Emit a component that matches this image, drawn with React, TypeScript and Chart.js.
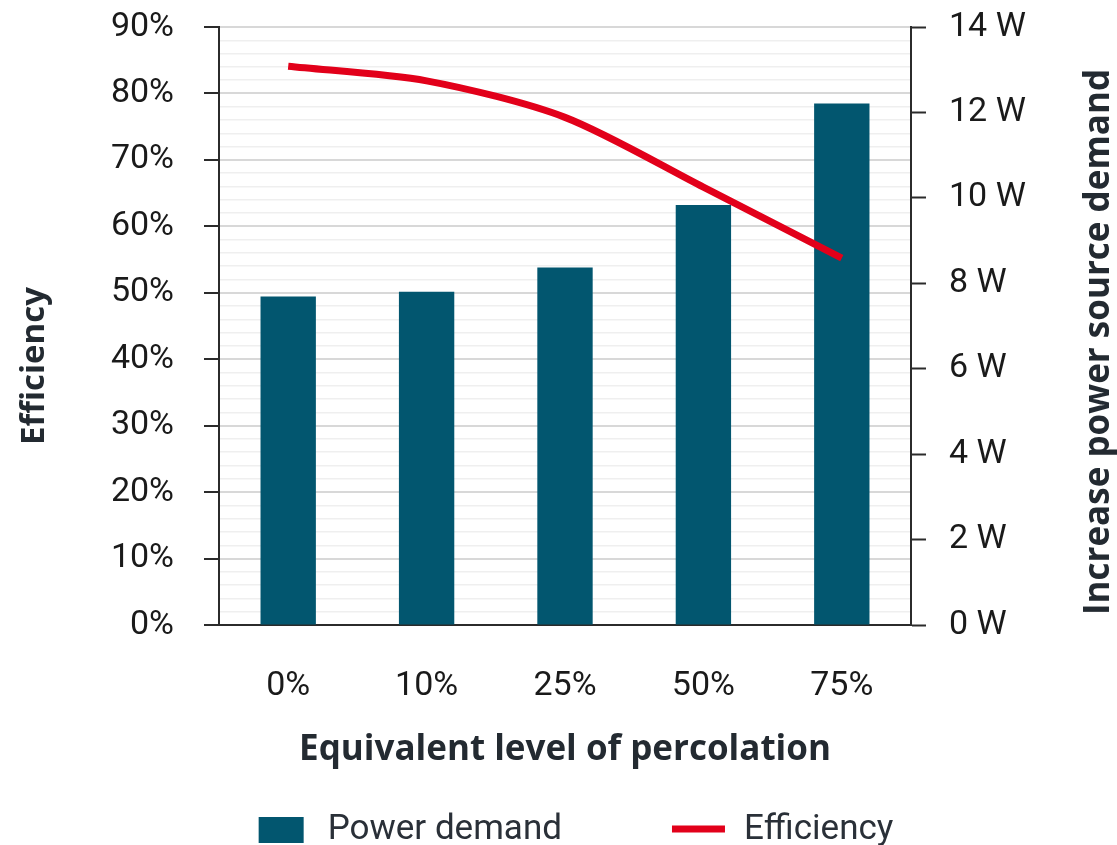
import React, { useEffect, useRef } from 'react';
import { Chart, registerables } from 'chart.js';

Chart.register(...registerables);

// ---- Data ----
const categories = ['0%', '10%', '25%', '50%', '75%'];
const powerDemand = [7.69, 7.8, 8.37, 9.83, 12.21]; // W (right axis)
const efficiency = [84.1, 81.9, 76.4, 65.9, 55.2]; // % (left axis)
const efficiencyTicks = [0, 10, 20, 30, 40, 50, 60, 70, 80, 90];
const efficiencyMinorStep = 2;
const powerTicks = [0, 2, 4, 6, 8, 10, 12, 14];

const xTitle = 'Equivalent level of percolation';
const leftTitle = 'Efficiency';
const rightTitle = 'Increase power source demand';

// ---- Styles ----
const BAR_COLOR = '#02566f';
const LINE_COLOR = '#e2001a';
const AXIS_COLOR = '#2b2b2b';
const TICK_TEXT = '#1a1a1a';
const TITLE_TEXT = '#232a31';
const FONT = 'Roboto';
const TITLE_FONT = '"Open Sans"';

const effGrid: number[] = [];
for (let v = efficiencyTicks[0]; v <= efficiencyTicks[efficiencyTicks.length - 1]; v += efficiencyMinorStep) effGrid.push(v);

const isMajor = (v: number) => efficiencyTicks.includes(v);

const sideTitlesPlugin = {
  id: 'sideTitles',
  afterDraw(chart: any) {
    const { ctx, chartArea } = chart;
    const mid = (chartArea.top + chartArea.bottom) / 2;
    ctx.save();
    ctx.fillStyle = TITLE_TEXT;
    ctx.textAlign = 'center';
    ctx.textBaseline = 'alphabetic';
    // left axis title
    ctx.save();
    ctx.font = `bold 33px ${TITLE_FONT}`;
    ctx.translate(44, mid + 40);
    ctx.rotate(-Math.PI / 2);
    ctx.fillText(leftTitle, 0, 0);
    ctx.restore();
    // right axis title (reads bottom to top)
    ctx.save();
    ctx.font = `bold 35px ${TITLE_FONT}`;
    ctx.translate(1109, mid + 16);
    ctx.rotate(-Math.PI / 2);
    ctx.fillText(rightTitle, 0, 0);
    ctx.restore();
    ctx.restore();
  },
};

const legendPlugin = {
  id: 'customLegend',
  afterDraw(chart: any) {
    const { ctx } = chart;
    const bar = chart.data.datasets[1];
    const line = chart.data.datasets[0];
    ctx.save();
    ctx.font = `35px ${FONT}`;
    const w1 = ctx.measureText(bar.label).width;
    const w2 = ctx.measureText(line.label).width;
    const boxW = 45;
    const lineW = 53;
    const total = boxW + 24 + w1 + 110 + lineW + 19 + w2;
    let x = 576 - total / 2;
    const baseline = 839;
    ctx.fillStyle = bar.backgroundColor;
    ctx.fillRect(x, 817, boxW, 26);
    x += boxW + 24;
    ctx.fillStyle = '#2a3038';
    ctx.textBaseline = 'alphabetic';
    ctx.fillText(bar.label, x, baseline);
    x += w1 + 110;
    ctx.strokeStyle = line.borderColor;
    ctx.lineWidth = 7;
    ctx.beginPath();
    ctx.moveTo(x, 829);
    ctx.lineTo(x + lineW, 829);
    ctx.stroke();
    x += lineW + 19;
    ctx.fillText(line.label, x, baseline);
    ctx.restore();
  },
};

export default function App() {
  const ref = useRef<HTMLCanvasElement | null>(null);

  useEffect(() => {
    if (!ref.current) return;
    const chart = new Chart(ref.current, {
      type: 'bar',
      data: {
        labels: categories,
        datasets: [
          {
            type: 'line',
            label: 'Efficiency',
            data: efficiency,
            yAxisID: 'yEff',
            borderColor: LINE_COLOR,
            backgroundColor: LINE_COLOR,
            borderWidth: 7,
            borderCapStyle: 'butt',
            pointRadius: 0,
            tension: 0.28,
            order: 0,
          } as any,
          {
            type: 'bar',
            label: 'Power demand',
            data: powerDemand,
            yAxisID: 'yPow',
            backgroundColor: BAR_COLOR,
            borderWidth: 0,
            barPercentage: 0.4,
            categoryPercentage: 1,
            order: 1,
          },
        ],
      },
      options: {
        responsive: false,
        animation: false,
        layout: { padding: { top: 27, left: 0, right: 0, bottom: 70 } },
        plugins: {
          legend: { display: false },
          tooltip: { enabled: false },
        },
        scales: {
          x: {
            grid: { display: false, drawTicks: false },
            border: { display: true, color: AXIS_COLOR, width: 2 },
            ticks: { color: TICK_TEXT, font: { family: FONT, size: 34 }, padding: 41 },
            title: {
              display: true,
              text: xTitle,
              color: TITLE_TEXT,
              font: { family: TITLE_FONT, size: 35, weight: 'bold' },
              padding: { top: 0, bottom: 4 },
            },
            afterFit: (s: any) => { s.height = 150; },
          },
          yEff: {
            type: 'linear',
            position: 'left',
            min: 0,
            max: 90,
            afterBuildTicks: (s: any) => { s.ticks = effGrid.map((v) => ({ value: v })); },
            ticks: {
              autoSkip: false,
              color: TICK_TEXT,
              font: { family: FONT, size: 34 },
              padding: 30,
              callback: (v: any) => (isMajor(Number(v)) ? `${v}%` : ''),
            },
            grid: {
              color: (c: any) => (isMajor(c.tick?.value) ? '#d8d8d8' : '#efefef'),
              lineWidth: (c: any) => (isMajor(c.tick?.value) ? 2 : 1.5),
              tickColor: (c: any) => (isMajor(c.tick?.value) ? AXIS_COLOR : 'rgba(0,0,0,0)'),
              tickWidth: 2,
              tickLength: 15,
              drawTicks: true,
            },
            border: { display: true, color: AXIS_COLOR, width: 2 },
            afterFit: (s: any) => { s.width = 219; s.paddingTop = 0; s.paddingBottom = 0; },
          },
          yPow: {
            type: 'linear',
            position: 'right',
            min: 0,
            max: 14,
            afterBuildTicks: (s: any) => { s.ticks = powerTicks.map((v) => ({ value: v })); },
            ticks: {
              autoSkip: false,
              color: TICK_TEXT,
              font: { family: FONT, size: 34 },
              padding: 23,
              callback: (v: any) => `${v} W`,
            },
            grid: {
              drawOnChartArea: false,
              tickColor: AXIS_COLOR,
              tickWidth: 2,
              tickLength: 15,
            },
            border: { display: true, color: AXIS_COLOR, width: 2 },
            afterFit: (s: any) => { s.width = 206; s.paddingTop = 0; s.paddingBottom = 0; },
          },
        },
      },
      plugins: [sideTitlesPlugin, legendPlugin],
    });
    return () => chart.destroy();
  }, []);

  return (
    <div style={{ position: 'fixed', left: 0, top: 0, width: 1117, height: 845, background: '#fff' }}>
      <canvas ref={ref} width={1117} height={845} style={{ display: 'block' }} />
    </div>
  );
}
